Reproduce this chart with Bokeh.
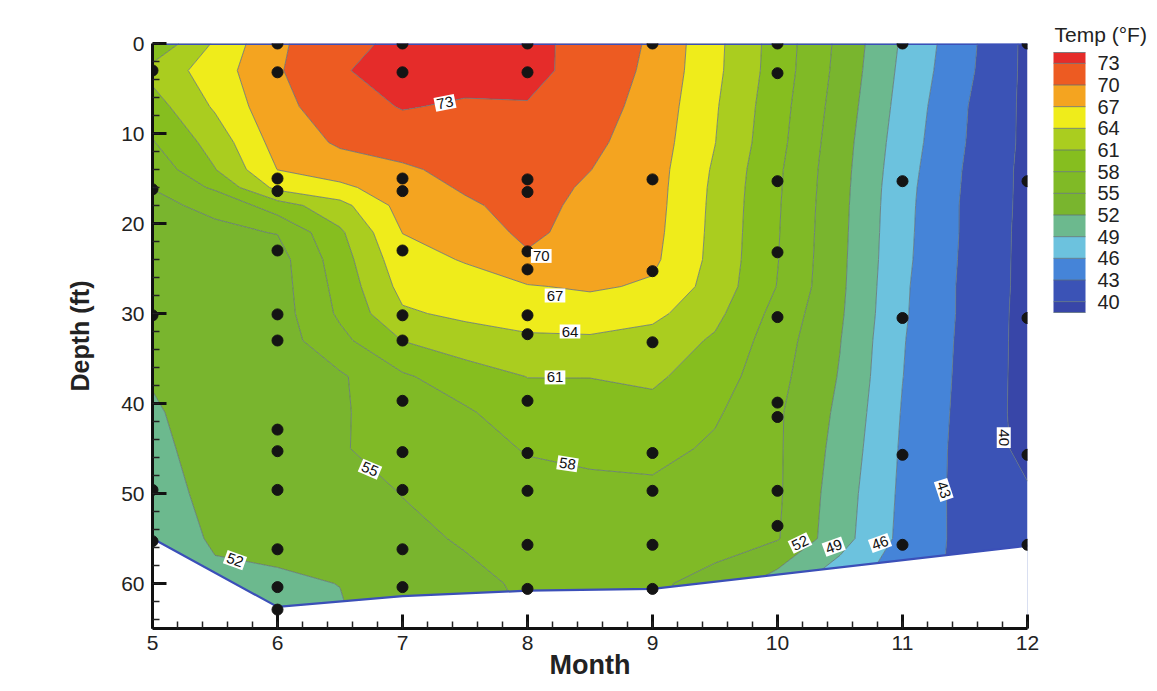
import numpy as np
from bokeh.plotting import figure
from bokeh.models import Range1d, SingleIntervalTicker, FixedTicker, ContourColorBar, Title
from bokeh.core.properties import value
from bokeh.embed import file_html
from bokeh.resources import INLINE

# ---------------- data ----------------
months = [5, 5.5, 6, 6.5, 7, 7.5, 8, 8.5, 9, 9.5, 10, 10.5, 11, 11.5, 12]
depths = [0, 3, 7, 11, 14, 16, 18, 21, 24, 27, 30, 33, 37, 41, 45, 50, 55, 60, 65]

# temperature (°F), one row per depth, one column per month
temp_f = [
    [58.5, 64.4, 69.6, 71.7, 74.0, 74.2, 73.8, 72.0, 69.6, 64.8, 59.7, 54.3, 48.6, 43.9, 39.3],
    [62.0, 65.5, 69.7, 72.7, 74.4, 74.3, 74.0, 71.7, 69.4, 64.7, 59.6, 54.1, 48.3, 43.7, 39.3],
    [59.7, 64.4, 69.2, 71.5, 73.2, 72.6, 72.8, 71.2, 69.0, 64.3, 59.2, 53.7, 47.9, 43.2, 39.3],
    [57.8, 62.2, 68.2, 70.4, 71.2, 71.6, 72.0, 70.6, 68.6, 64.05, 58.9, 53.3, 47.5, 43.05, 39.3],
    [56.1, 60.9, 67.05, 68.6, 69.6, 70.8, 71.5, 70.05, 68.3, 63.6, 58.5, 53.1, 47.2, 42.8, 39.2],
    [55.05, 58.5, 64.8, 66.3, 68.8, 70.3, 71.2, 69.6, 68.2, 63.4, 58.4, 53.0, 47.0, 42.7, 39.2],
    [54.5, 55.5, 59.6, 63.0, 68.1, 69.6, 70.9, 69.3, 68.1, 63.3, 58.3, 52.9, 46.9, 42.6, 39.2],
    [54.2, 54.5, 55.1, 60.5, 67.05, 68.5, 70.6, 68.9, 67.9, 63.2, 58.2, 52.8, 46.8, 42.6, 39.1],
    [53.9, 54.2, 53.8, 59.6, 65.9, 67.2, 69.6, 68.4, 67.6, 63.1, 58.1, 52.7, 46.7, 42.5, 39.1],
    [53.5, 54.0, 53.7, 59.0, 64.9, 65.8, 66.8, 67.4, 66.6, 62.8, 57.9, 52.6, 46.5, 42.4, 39.1],
    [53.2, 53.8, 53.6, 58.5, 63.6, 64.6, 65.2, 65.4, 64.8, 61.8, 57.0, 52.4, 46.4, 42.4, 39.0],
    [52.8, 53.6, 53.5, 57.2, 61.05, 62.6, 63.5, 63.6, 62.8, 60.6, 56.4, 52.1, 46.2, 42.3, 39.0],
    [52.2, 53.4, 53.4, 54.6, 57.6, 59.6, 61.05, 61.05, 61.5, 59.5, 55.9, 51.8, 46.05, 42.2, 39.0],
    [51.7, 53.2, 53.3, 54.6, 56.8, 57.6, 59.7, 59.9, 60.1, 58.4, 55.4, 51.4, 45.8, 42.1, 39.0],
    [51.4, 53.0, 53.2, 54.8, 56.0, 56.9, 58.2, 58.6, 59.0, 57.5, 55.4, 51.0, 45.6, 42.0, 39.2],
    [51.0, 52.7, 53.1, 54.1, 55.05, 56.0, 57.0, 57.3, 57.3, 56.8, 55.4, 50.5, 45.4, 42.0, 40.3],
    [50.6, 52.3, 52.9, 53.4, 54.5, 55.2, 56.2, 56.4, 56.2, 56.2, 55.2, 50.2, 45.2, 42.1, 40.6],
    [50.3, 51.5, 51.5, 52.05, 54.1, 54.5, 55.3, 55.7, 55.5, 54.0, 50.5, 47.0, 44.5, 42.2, 40.8],
    [50.0, 51.0, 50.8, 51.5, 54.0, 54.3, 55.0, 55.4, 55.3, 52.5, 49.0, 46.0, 44.0, 42.3, 41.0],
]

levels = [38.5, 40, 43, 46, 49, 52, 55, 58, 61, 64, 67, 70, 73, 74.5]
legend_ticks = [40, 43, 46, 49, 52, 55, 58, 61, 64, 67, 70, 73]
band_colors = ["#3846a8", "#3b53b6", "#4584d8", "#6cc2de", "#6cb98e", "#79b52e",
               "#80ba26", "#86be1f", "#aacd1f", "#efec1b", "#f4a420", "#ed5b22", "#e52c2a"]

# sampling points (depth ft) per month
samples = {
    5: [3.0, 16.2, 30.2, 49.6, 55.3],
    6: [0, 3.2, 15.0, 16.4, 23.0, 30.1, 33.0, 42.9, 45.3, 49.6, 56.2, 60.4, 62.9],
    7: [0, 3.2, 15.0, 16.4, 23.0, 30.2, 33.0, 39.7, 45.4, 49.6, 56.2, 60.4],
    8: [0, 3.2, 15.1, 16.5, 23.1, 25.1, 30.2, 32.3, 39.7, 45.5, 49.7, 55.7, 60.6],
    9: [0, 15.1, 25.3, 33.2, 45.5, 49.7, 55.7, 60.6],
    10: [0, 3.3, 15.3, 23.2, 30.4, 39.9, 41.5, 49.7, 53.6],
    11: [0, 15.3, 30.5, 45.7, 55.7],
    12: [0, 15.3, 30.5, 45.7, 55.7],
}

# lake-bottom outline
bottom_month = [5, 6, 7, 8, 9, 12]
bottom_depth = [55.0, 62.6, 61.4, 60.8, 60.6, 55.8]

# contour labels
label_month = [7.34, 8.11, 8.22, 8.34, 8.22, 8.32, 6.74, 5.66, 10.18, 10.45, 10.82, 11.33, 11.81]
label_depth = [6.6, 23.6, 28.0, 32.0, 37.1, 46.7, 47.3, 57.4, 55.5, 55.9, 55.5, 49.6, 43.8]
label_text = ["73", "70", "67", "64", "61", "58", "55", "52", "52", "49", "46", "43", "40"]
label_angle = [0.2, 0.0, 0.0, 0.0, 0.0, -0.15, -0.4, -0.35, 0.45, 0.35, 0.35, -1.25, -1.5708]

legend_title = "Temp (°F)"

FONT = "Liberation Sans"

p = figure(width=1152, height=683, x_range=Range1d(5, 12), y_range=Range1d(65, 0),
           output_backend="svg", toolbar_location=None,
           min_border_left=152, min_border_right=125, min_border_top=43, min_border_bottom=55)
p.outline_line_color = None
p.grid.visible = False
p.background_fill_color = "white"
p.border_fill_color = "white"

z = np.array(temp_f)
cr = p.contour(x=months, y=depths, z=z, levels=levels, fill_color=band_colors,
               line_color="#5d7078", line_width=0.9, line_alpha=0.85)

# mask below the lake bottom
mask_x = bottom_month + [bottom_month[-1], bottom_month[0]]
mask_y = bottom_depth + [depths[-1] + 5, depths[-1] + 5]
p.patch(mask_x, mask_y, fill_color="white", line_color=None)

# domain outline (surface and bottom)
p.line([months[0], months[-1]], [depths[0], depths[0]], line_color="#3b4fb8", line_width=3)
p.line(bottom_month, bottom_depth, line_color="#3b4fb8", line_width=2.2)

# sample points
dot_x = [m for m, ds in samples.items() for _ in ds]
dot_y = [d for ds in samples.values() for d in ds]
p.scatter(dot_x, dot_y, size=11, color="#141414")

# contour labels
p.text(x=label_month, y=label_depth, text=label_text, angle=label_angle,
       text_align="center", text_baseline="middle", text_font=value(FONT),
       text_font_size="15px", text_color="#111111",
       background_fill_color="white", padding=2)

# axes
for ax in (p.xaxis[0], p.yaxis[0]):
    ax.axis_line_width = 3
    ax.axis_line_color = "#111111"
    ax.major_tick_in = 14
    ax.major_tick_out = 0
    ax.minor_tick_in = 7
    ax.minor_tick_out = 0
    ax.major_tick_line_width = 3
    ax.minor_tick_line_width = 1.5
    ax.major_tick_line_color = "#111111"
    ax.minor_tick_line_color = "#222222"
    ax.major_label_text_font = FONT
    ax.major_label_text_font_size = "21px"
    ax.major_label_text_color = "#222222"
    ax.axis_label_text_font = FONT
    ax.axis_label_text_font_style = "bold"
    ax.axis_label_text_color = "#222222"

p.xaxis.ticker = SingleIntervalTicker(interval=1, num_minor_ticks=5)
p.yaxis.ticker = SingleIntervalTicker(interval=10, num_minor_ticks=5)
p.xaxis.axis_label = "Month"
p.yaxis.axis_label = "Depth (ft)"
p.xaxis.axis_label_text_font_size = "27px"
p.yaxis.axis_label_text_font_size = "25px"
p.xaxis.major_label_standoff = 7
p.xaxis.axis_label_standoff = -3
p.yaxis.major_label_standoff = 8
p.yaxis.axis_label_standoff = 24

cb = ContourColorBar(fill_renderer=cr.fill_renderer, line_renderer=cr.line_renderer,
                     levels=levels, ticker=FixedTicker(ticks=legend_ticks),
                     width=32, height=260, location=(901, 316), padding=0, margin=0,
                     major_label_text_font=FONT, major_label_text_font_size="20px",
                     major_label_text_color="#222222", label_standoff=12,
                     major_tick_line_color=None, bar_line_color="#333333",
                     background_fill_color=None, border_line_color=None)
p.add_layout(cb)

p.add_layout(Title(text=legend_title, align="left", offset=902, standoff=-4,
                   text_font=FONT, text_font_size="21px", text_font_style="normal",
                   text_color="#222222"), "above")

open("out.html", "w").write(file_html(p, INLINE))
